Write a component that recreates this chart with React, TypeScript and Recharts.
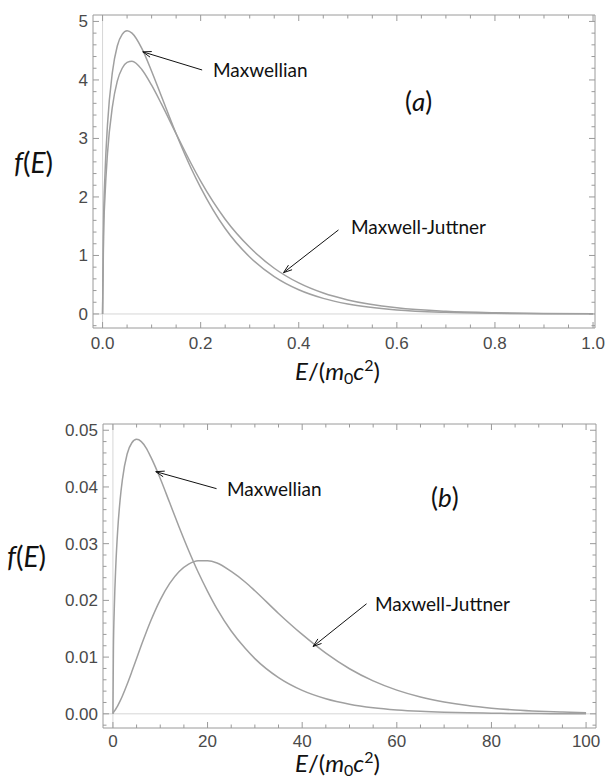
import { LineChart, Line, XAxis, YAxis, ReferenceLine } from 'recharts'

// panel (a): E in units of m0c^2, kT = 0.1
const energyA = [0, 0.002, 0.005, 0.01, 0.02, 0.03, 0.04, 0.05, 0.06, 0.08, 0.1, 0.12, 0.15, 0.18, 0.2, 0.25, 0.3, 0.35, 0.4, 0.45, 0.5, 0.6, 0.7, 0.8, 0.9, 1.0]
const maxwellA = [0, 1.56, 2.4, 3.23, 4.13, 4.58, 4.78, 4.84, 4.8, 4.54, 4.15, 3.72, 3.08, 2.5, 2.16, 1.46, 0.973, 0.638, 0.413, 0.266, 0.17, 0.0685, 0.0272, 0.0107, 0.0042, 0.0016]
const juttnerA = [0, 1.31, 2.02, 2.74, 3.54, 3.98, 4.2, 4.3, 4.32, 4.18, 3.91, 3.59, 3.08, 2.58, 2.27, 1.62, 1.14, 0.781, 0.53, 0.357, 0.239, 0.105, 0.045, 0.019, 0.008, 0.0033]

// panel (b): kT = 10
const energyB = [0, 0.1, 0.3, 0.6, 1, 1.5, 2, 3, 4, 5, 6, 7, 8, 10, 12, 14, 16, 18, 20, 22, 25, 28, 30, 35, 40, 45, 50, 55, 60, 65, 70, 75, 80, 85, 90, 95, 100]
const maxwellB = [0, 0.0112, 0.019, 0.026, 0.0323, 0.0376, 0.0413, 0.0458, 0.0478, 0.0484, 0.048, 0.0469, 0.0453, 0.0415, 0.0372, 0.0329, 0.0288, 0.025, 0.0216, 0.0185, 0.0146, 0.0115, 0.00973, 0.00638, 0.00413, 0.00266, 0.0017, 0.00108, 0.000685, 0.000433, 0.000272, 0.000171, 0.000107, 0.000067, 0.000042, 0.000026, 0.000016]
const juttnerB = [0, 0.000226, 0.000475, 0.000854, 0.00142, 0.00224, 0.00315, 0.00521, 0.00745, 0.00977, 0.0121, 0.0143, 0.0164, 0.0201, 0.023, 0.0251, 0.0264, 0.027, 0.027, 0.0266, 0.0251, 0.0232, 0.0217, 0.0177, 0.014, 0.0107, 0.00795, 0.00581, 0.00418, 0.00297, 0.00209, 0.00145, 0.001, 0.00068, 0.00046, 0.00031, 0.00021]

const xMajorA = [0, 0.2, 0.4, 0.6, 0.8, 1.0]
const yMajorA = [0, 1, 2, 3, 4, 5]
const xMajorB = [0, 20, 40, 60, 80, 100]
const yMajorB = [0, 0.01, 0.02, 0.03, 0.04, 0.05]

const CURVE = '#a0a0a0'
const FRAME = '#9a9a9a'
const LABEL = '#4a4a4a'
const TICK_FONT = '"Liberation Sans", Arial, sans-serif'
const TEXT_FONT = 'Lato, "Open Sans", sans-serif'

const steps = (from: number, to: number, step: number) => {
    const out: number[] = []
    for (let v = from; v <= to + step / 1000; v += step) out.push(Math.round(v / step) * step)
    return out
}

const isMajor = (v: number, majors: number[]) => majors.some(m => Math.abs(m - v) < 1e-9)

type PanelProps = {
    energy: number[]
    maxwell: number[]
    juttner: number[]
    xDomain: [number, number]
    yDomain: [number, number]
    xMajor: number[]
    yMajor: number[]
    xMinor: number[]
    yMinor: number[]
    xFmt: (v: number) => string
    yFmt: (v: number) => string
    height: number
    top: number
    marginTop: number
    yWidth: number
    right: number
    xHeight: number
    labelGap: number
    arrows: { from: [number, number], to: [number, number] }[]
}

const Arrow = (props: any) => {
    const { x1, y1, x2, y2 } = props
    const ang = Math.atan2(y2 - y1, x2 - x1)
    const len = 9
    const spread = 0.33
    const ax = x2 - len * Math.cos(ang - spread)
    const ay = y2 - len * Math.sin(ang - spread)
    const bx = x2 - len * Math.cos(ang + spread)
    const by = y2 - len * Math.sin(ang + spread)
    return (
        <g>
            <line x1={x1} y1={y1} x2={x2} y2={y2} stroke="#111" strokeWidth={1} />
            <path d={`M${ax},${ay} L${x2},${y2} L${bx},${by}`} fill="none" stroke="#111" strokeWidth={1} />
        </g>
    )
}

const Panel = (p: PanelProps) => {
    const data = p.energy.map((e, i) => ({ e, mw: p.maxwell[i], mj: p.juttner[i] }))
    const xTicks = p.xMinor
    const yTicks = p.yMinor

    const bottomTick = (t: any) => {
        const major = isMajor(t.payload.value, p.xMajor)
        return (
            <g>
                <line x1={t.x} y1={t.y} x2={t.x} y2={t.y - (major ? 6 : 3.5)} stroke={FRAME} />
                {major && (
                    <text x={t.x} y={t.y + p.labelGap} textAnchor="middle" fontSize={17} fill={LABEL} fontFamily={TICK_FONT}>
                        {p.xFmt(t.payload.value)}
                    </text>
                )}
            </g>
        )
    }
    const topTick = (t: any) => {
        const major = isMajor(t.payload.value, p.xMajor)
        return <line x1={t.x} y1={t.y} x2={t.x} y2={t.y + (major ? 6 : 3.5)} stroke={FRAME} />
    }
    const leftTick = (t: any) => {
        const major = isMajor(t.payload.value, p.yMajor)
        return (
            <g>
                <line x1={t.x} y1={t.y} x2={t.x + (major ? 6 : 3.5)} y2={t.y} stroke={FRAME} />
                {major && (
                    <text x={t.x - 5} y={t.y + 6} textAnchor="end" fontSize={17} fill={LABEL} fontFamily={TICK_FONT}>
                        {p.yFmt(t.payload.value)}
                    </text>
                )}
            </g>
        )
    }
    const rightTick = (t: any) => {
        const major = isMajor(t.payload.value, p.yMajor)
        return <line x1={t.x} y1={t.y} x2={t.x - (major ? 6 : 3.5)} y2={t.y} stroke={FRAME} />
    }

    return (
        <div style={{ position: 'absolute', left: 0, top: p.top }}>
            <LineChart width={606} height={p.height} data={data} margin={{ top: p.marginTop, right: p.right, left: 0, bottom: 0 }}>
                <XAxis xAxisId="main" dataKey="e" type="number" domain={p.xDomain} allowDataOverflow ticks={xTicks}
                    interval={0} tickSize={0} tickMargin={0} tickLine={false} height={p.xHeight}
                    axisLine={{ stroke: FRAME }} tick={bottomTick} />
                <XAxis xAxisId="top" orientation="top" dataKey="e" type="number" domain={p.xDomain} allowDataOverflow ticks={xTicks}
                    interval={0} tickSize={0} tickMargin={0} tickLine={false} height={1}
                    axisLine={{ stroke: FRAME }} tick={topTick} />
                <YAxis yAxisId="main" type="number" domain={p.yDomain} allowDataOverflow ticks={yTicks}
                    interval={0} tickSize={0} tickMargin={0} tickLine={false} width={p.yWidth}
                    axisLine={{ stroke: FRAME }} tick={leftTick} />
                <YAxis yAxisId="right" orientation="right" type="number" domain={p.yDomain} allowDataOverflow ticks={yTicks}
                    interval={0} tickSize={0} tickMargin={0} tickLine={false} width={1}
                    axisLine={{ stroke: FRAME }} tick={rightTick} />
                <ReferenceLine xAxisId="main" yAxisId="main" y={0} stroke="#d6d6d6" strokeWidth={1} />
                <ReferenceLine xAxisId="main" yAxisId="main" x={0} stroke="#d6d6d6" strokeWidth={1} />
                <Line xAxisId="main" yAxisId="main" dataKey="mw" type="monotone" stroke={CURVE} strokeWidth={1.5}
                    dot={false} isAnimationActive={false} />
                <Line xAxisId="main" yAxisId="main" dataKey="mj" type="monotone" stroke={CURVE} strokeWidth={1.5}
                    dot={false} isAnimationActive={false} />
                {p.arrows.map((a, i) => (
                    <ReferenceLine key={i} xAxisId="main" yAxisId="main" ifOverflow="extendDomain"
                        segment={[{ x: a.from[0], y: a.from[1] }, { x: a.to[0], y: a.to[1] }]}
                        shape={Arrow} />
                ))}
            </LineChart>
        </div>
    )
}

const AxisTitle = ({ x, y }: { x: number, y: number }) => (
    <text x={x} y={y} fontSize={24} fill="#111" fontFamily={TEXT_FONT}>
        <tspan fontStyle="italic">E</tspan>/(<tspan fontStyle="italic">m</tspan>
        <tspan fontSize={16} dy={4}>0</tspan>
        <tspan fontStyle="italic" dy={-4}>c</tspan>
        <tspan fontSize={16} dy={-9}>2</tspan>
        <tspan dy={9}>)</tspan>
    </text>
)

const FTitle = ({ x, y }: { x: number, y: number }) => (
    <text x={x} y={y} fontSize={28} fill="#111" fontFamily={TEXT_FONT}>
        <tspan fontStyle="italic">f</tspan>(<tspan fontStyle="italic">E</tspan>)
    </text>
)

export default function App() {
    return (
        <div style={{ position: 'absolute', left: 0, top: 0, width: 606, height: 780, background: '#fff' }}>
            <Panel energy={energyA} maxwell={maxwellA} juttner={juttnerA}
                xDomain={[-0.0195, 1.004]} yDomain={[-0.24, 5.11]}
                xMajor={xMajorA} yMajor={yMajorA}
                xMinor={steps(0, 1, 0.05)} yMinor={steps(-0.2, 5, 0.2)}
                xFmt={v => v.toFixed(1)} yFmt={v => String(v)}
                top={0} marginTop={14} height={390} yWidth={93} right={10} xHeight={62} labelGap={21}
                arrows={[
                    { from: [0.203, 4.17], to: [0.082, 4.48] },
                    { from: [0.481, 1.436], to: [0.369, 0.706] },
                ]} />
            <Panel energy={energyB} maxwell={maxwellB} juttner={juttnerB}
                xDomain={[-2.1, 102.1]} yDomain={[-0.0025, 0.0511]}
                xMajor={xMajorB} yMajor={yMajorB}
                xMinor={steps(0, 100, 5)} yMinor={steps(-0.002, 0.05, 0.002)}
                xFmt={v => String(Math.round(v))} yFmt={v => v.toFixed(2)}
                top={400} marginTop={23} height={380} yWidth={103} right={9} xHeight={52} labelGap={19}
                arrows={[
                    { from: [21.9, 0.0397], to: [9.05, 0.0427] },
                    { from: [53.6, 0.0194], to: [42.3, 0.01187] },
                ]} />
            <svg width={606} height={780} style={{ position: 'absolute', left: 0, top: 0, pointerEvents: 'none' }}>
                <FTitle x={14} y={173} />
                <text x={213} y={77} fontSize={19} fill="#111" fontFamily={TEXT_FONT}>Maxwellian</text>
                <text x={405} y={111} fontSize={26} fill="#111" fontFamily={TEXT_FONT}>
                    (<tspan fontStyle="italic">a</tspan>)
                </text>
                <text x={351} y={234} fontSize={19} fill="#111" fontFamily={TEXT_FONT}>Maxwell-Juttner</text>
                <AxisTitle x={295} y={380} />

                <FTitle x={7} y={567} />
                <text x={227} y={496} fontSize={19} fill="#111" fontFamily={TEXT_FONT}>Maxwellian</text>
                <text x={431} y={507} fontSize={26} fill="#111" fontFamily={TEXT_FONT}>
                    (<tspan fontStyle="italic">b</tspan>)
                </text>
                <text x={375} y={611} fontSize={19} fill="#111" fontFamily={TEXT_FONT}>Maxwell-Juttner</text>
                <AxisTitle x={295} y={772} />
            </svg>
        </div>
    )
}
